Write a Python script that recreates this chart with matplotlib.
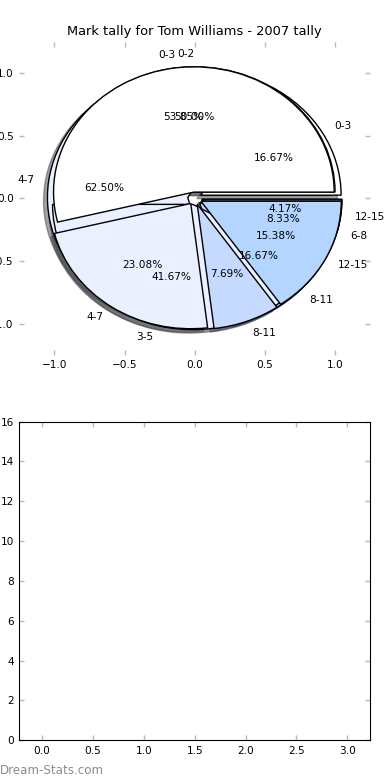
import numpy as np
import matplotlib
matplotlib.use("Agg")
import matplotlib.pyplot as plt

# ==========================
# DATA
# ==========================
TITLE = "Mark tally for Tom Williams - 2007 tally"

# three tallies drawn on top of each other (last one ends up on top)
tally_c_labels = ["0-3", "4-7", "8-11", "12-15"]
tally_c_counts = [4, 15, 4, 1]

tally_b_labels = ["0-2", "3-5", "6-8"]
tally_b_counts = [6, 5, 1]

tally_a_labels = ["0-3", "4-7", "8-11", "12-15"]
tally_a_counts = [7, 3, 1, 2]

PIE_COLORS = ["#ffffff", "#eaf0ff", "#c6d9ff", "#b3d5ff"]
EXPLODE = 0.05

bar_xlim = (-0.225, 3.225)
bar_ylim = (0, 16)

# ==========================
# FIGURE
# ==========================
fig = plt.figure(figsize=(3.9, 7.8), dpi=100)
ax1 = fig.add_axes([0.0495, 0.545, 0.8995, 0.4015])
ax2 = fig.add_axes([0.0495, 0.051, 0.8995, 0.4085])

FS = 7.6

for labels, counts in [(tally_c_labels, tally_c_counts),
                       (tally_b_labels, tally_b_counts),
                       (tally_a_labels, tally_a_counts)]:
    ax1.pie(counts, labels=labels, autopct="%1.2f%%",
            colors=PIE_COLORS[:len(counts)],
            explode=[EXPLODE] * len(counts), shadow=True,
            wedgeprops={"edgecolor": "black", "linewidth": 1.0},
            textprops={"fontsize": FS})

ax1.set_aspect("auto")
ax1.set_xlim(-1.25, 1.25)
ax1.set_ylim(-1.25, 1.25)
ax1.set_xticks([-1.0, -0.5, 0.0, 0.5, 1.0])
ax1.set_yticks([-1.0, -0.5, 0.0, 0.5, 1.0])
ax1.set_frame_on(False)
ax1.set_title(TITLE, fontsize=9.4, pad=5)

# empty lower panel
ax2.set_xlim(*bar_xlim)
ax2.set_ylim(*bar_ylim)
ax2.set_xticks(np.arange(0, 3.01, 0.5))
ax2.set_yticks(np.arange(0, 17, 2))

for ax in (ax1, ax2):
    ax.tick_params(direction="in", colors="#b8b8b8", labelcolor="black",
                   top=True, right=True, length=3.5, width=1,
                   labelsize=FS, pad=4)

fig.text(0.0, 0.0125, "Dream-Stats.com", color="#8c8c8c",
         fontsize=8.6, ha="left", va="center")

fig.savefig("out.png", dpi=100)
